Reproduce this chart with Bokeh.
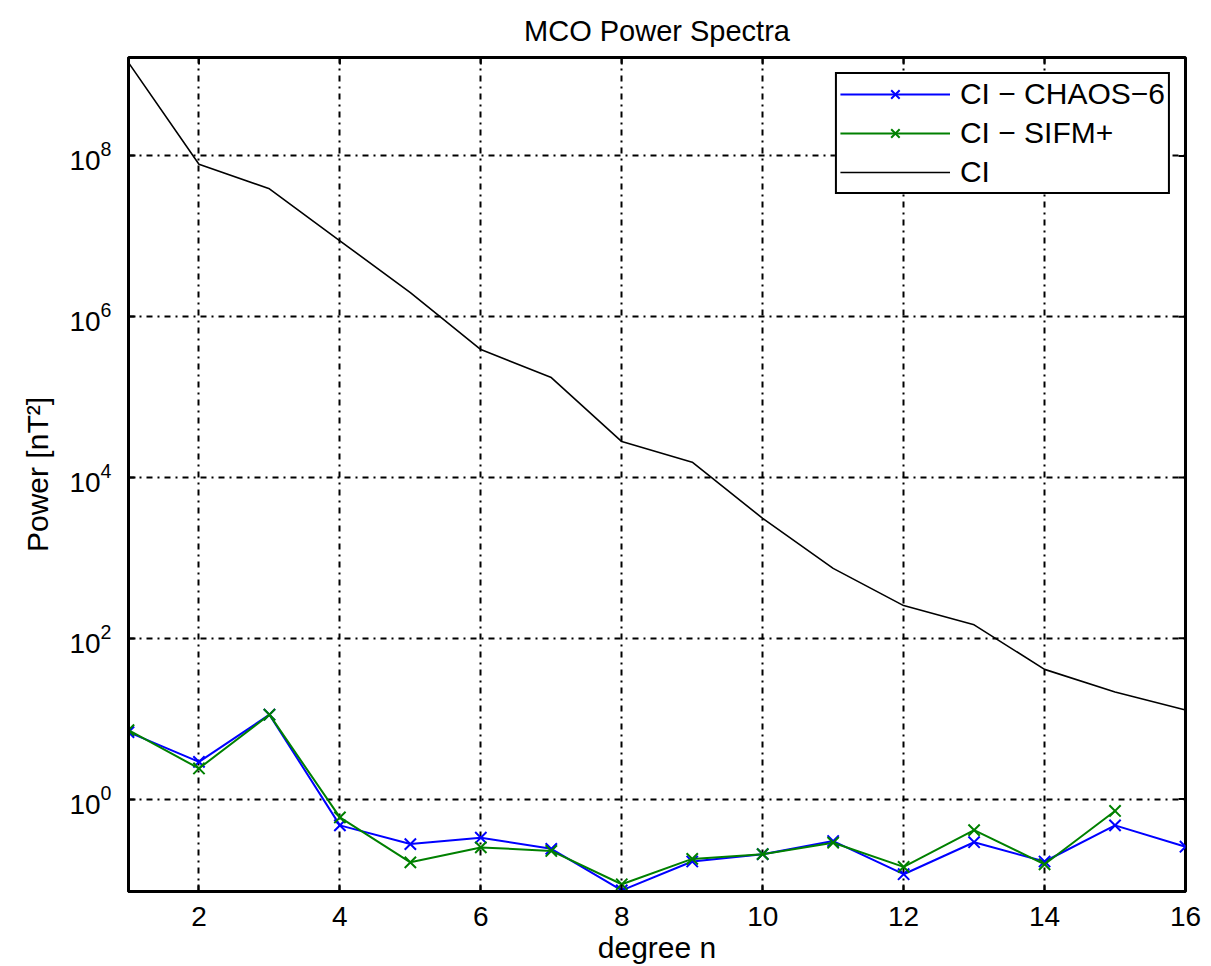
import math
from bokeh.plotting import figure
from bokeh.models import (Range1d, FixedTicker, Legend, LegendItem,
                          LogTickFormatter)
from bokeh.embed import file_html
from bokeh.resources import INLINE

# ---- data ----
degree = list(range(1, 17))
ci_power = [1.45e9, 7.9e7, 3.9e7, 8.8e6, 2.0e6, 3.9e5, 1.75e5, 2.8e4,
            1.55e4, 3.1e3, 740, 255, 147, 41, 21.5, 12.8]
chaos_diff = [6.8, 2.9, 11.2, 0.47, 0.275, 0.33, 0.24, 0.073,
              0.167, 0.206, 0.30, 0.116, 0.29, 0.167, 0.47, 0.255]
sifm_degree = list(range(1, 16))
sifm_diff = [7.2, 2.4, 11.2, 0.59, 0.163, 0.25, 0.226, 0.087,
             0.18, 0.206, 0.286, 0.143, 0.41, 0.154, 0.71]
x_ticks = [2, 4, 6, 8, 10, 12, 14, 16]
y_ticks = [1e0, 1e2, 1e4, 1e6, 1e8]
x_lim = (1, 16)
y_lim = (0.0707, 1.68e9)

FONT = "Liberation Sans"

p = figure(width=1211, height=966, y_axis_type="log",
           x_range=Range1d(*x_lim), y_range=Range1d(*y_lim),
           output_backend="svg", toolbar_location=None,
           min_border_left=128, min_border_right=26,
           min_border_top=57, min_border_bottom=75)

p.title.text = "MCO Power Spectra"
p.title.align = "center"
p.title.text_font = FONT
p.title.text_font_size = "29px"
p.title.text_font_style = "normal"
p.title.text_color = "black"
p.title.standoff = 22

p.outline_line_color = "black"
p.outline_line_width = 3
p.outline_line_alpha = 1

# grid
p.xgrid.ticker = FixedTicker(ticks=x_ticks)
p.ygrid.ticker = FixedTicker(ticks=y_ticks)
for g in (p.xgrid[0], p.ygrid[0]):
    g.grid_line_color = "black"
    g.grid_line_width = 2
    g.grid_line_dash = "6 5 2 5"
    g.grid_line_alpha = 1

# axes
xa = p.xaxis[0]
xa.ticker = FixedTicker(ticks=x_ticks)
xa.axis_label = "degree n"
ya = p.yaxis[0]
ya.ticker = FixedTicker(ticks=y_ticks)
ya.formatter = LogTickFormatter()
ya.axis_label = "Power [nT²]"

for ax in (xa, ya):
    ax.axis_line_width = 3
    ax.axis_line_color = "black"
    ax.major_tick_in = 7
    ax.major_tick_out = 0
    ax.major_tick_line_width = 2
    ax.minor_tick_in = 0
    ax.minor_tick_out = 0
    ax.major_label_text_font = FONT
    ax.major_label_text_font_size = "28px"
    ax.major_label_text_color = "black"
    ax.axis_label_text_font = FONT
    ax.axis_label_text_font_size = "30px"
    ax.axis_label_text_font_style = "normal"
    ax.axis_label_text_color = "black"
xa.major_label_standoff = 15
xa.axis_label_standoff = 2
ya.major_label_standoff = 17
ya.axis_label_standoff = 12

# inward ticks on the top and right edges of the box
p.ray(x=x_ticks, y=[y_lim[1]] * len(x_ticks), length=7, length_units="screen",
      angle=-math.pi / 2, line_color="black", line_width=2)
p.ray(x=[x_lim[1]] * len(y_ticks), y=y_ticks, length=7, length_units="screen",
      angle=math.pi, line_color="black", line_width=2)

# series
l1 = p.line(degree, chaos_diff, line_color="#0000FF", line_width=2)
s1 = p.scatter(degree, chaos_diff, marker="x", size=16,
               line_color="#0000FF", line_width=2)
l2 = p.line(sifm_degree, sifm_diff, line_color="#008000", line_width=2)
s2 = p.scatter(sifm_degree, sifm_diff, marker="x", size=16,
               line_color="#008000", line_width=2)
l3 = p.line(degree, ci_power, line_color="black", line_width=1.6)

legend = Legend(items=[
    LegendItem(label="CI − CHAOS−6", renderers=[l1, s1]),
    LegendItem(label="CI − SIFM+", renderers=[l2, s2]),
    LegendItem(label="CI", renderers=[l3]),
], location="top_right")
legend.margin = 15
legend.padding = 3
legend.spacing = 5
legend.glyph_width = 110
legend.glyph_height = 30
legend.label_height = 30
legend.label_standoff = 10
legend.label_text_font = FONT
legend.label_text_font_size = "30px"
legend.label_text_color = "black"
legend.border_line_color = "black"
legend.border_line_width = 2.5
legend.border_line_alpha = 1
legend.background_fill_alpha = 1
p.add_layout(legend)

open("out.html", "w").write(file_html(p, INLINE))
